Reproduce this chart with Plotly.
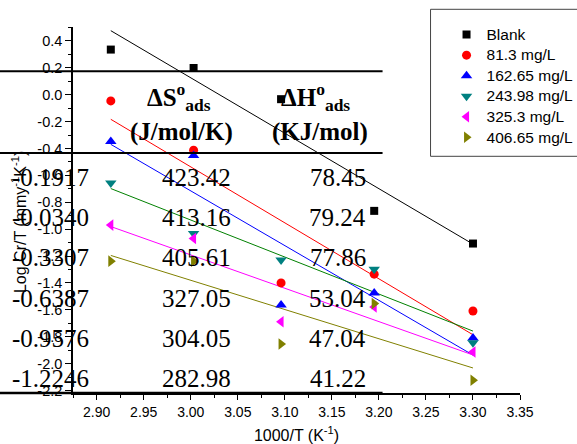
import numpy as np
import plotly.graph_objects as go

# ---------------- data ----------------
inv_T = [2.915, 3.003, 3.096, 3.195, 3.300]          # 1000/T (K^-1)
series_names = ["Blank", "81.3 mg/L", "162.65 mg/L", "243.98 mg/L", "325.3 mg/L", "406.65 mg/L"]
blank    = [0.336, 0.199, -0.033, -0.864, -1.107]
c_81_3   = [-0.046, -0.413, -1.400, -1.335, -1.609]
c_162_65 = [-0.348, -0.452, -1.565, -1.475, -1.809]
c_243_98 = [-0.656, -1.032, -1.230, -1.298, -1.846]
c_325_3  = [-0.970, -1.069, -1.689, -1.579, -1.914]
c_406_65 = [-1.238, -1.238, -1.855, -1.554, -2.124]

# overlaid table
tbl_col1 = ["-0.1917", "-0.0340", "-0.3307", "-0.6387", "-0.9576", "-1.2246"]
dS_ads   = ["423.42", "413.16", "405.61", "327.05", "304.05", "282.98"]
dH_ads   = ["78.45", "79.24", "77.86", "53.04", "47.04", "41.22"]

x_tickvals = [2.90, 2.95, 3.00, 3.05, 3.10, 3.15, 3.20, 3.25, 3.30, 3.35]
x_ticktext = ["2.90", "2.95", "3.00", "3.05", "3.10", "3.15", "3.20", "3.25", "3.30", "3.35"]
y_tickvals = [0.4, 0.2, 0.0, -0.2, -0.4, -0.6, -0.8, -1.0, -1.2, -1.4, -1.6, -1.8, -2.0, -2.2]
y_ticktext = ["0.4", "0.2", "0.0", "-0.2", "-0.4", "-0.6", "-0.8", "-1.0", "-1.2", "-1.4", "-1.6", "-1.8", "-2.0", "-2.2"]

# ---------------- styles ----------------
all_series = [blank, c_81_3, c_162_65, c_243_98, c_325_3, c_406_65]
marker_colors = ["#000000", "#FF0000", "#0000FF", "#008080", "#FF00FF", "#808000"]
line_colors   = ["#000000", "#FF0000", "#0000FF", "#008000", "#FF00FF", "#808000"]
symbols = ["square", "circle", "triangle-up", "triangle-down", "triangle-left", "triangle-right"]
sizes = [8, 9, 10, 10, 10, 10]

W, H = 577, 444
ML, MR, MT, MB = 73.3, 56.5, 26.7, 51.3
PW, PH = W - ML - MR, H - MT - MB

def fx(px):
    return (px - ML) / PW

def fy(py):
    return 1 - (py - MT) / PH

fig = go.Figure()

# linear fits (drawn from the data)
for ys, lc in zip(all_series, line_colors):
    k, b = np.polyfit(inv_T, ys, 1)
    xf = np.array([inv_T[0], inv_T[-1]])
    fig.add_trace(go.Scatter(x=xf, y=k * xf + b, mode="lines",
                             line=dict(color=lc, width=1), showlegend=False,
                             hoverinfo="skip"))

for ys, name, mc, sym, sz in zip(all_series, series_names, marker_colors, symbols, sizes):
    fig.add_trace(go.Scatter(x=inv_T, y=ys, mode="markers",
                             name='<span style="font-size:15.5px">' + name + '</span>',
                             marker=dict(color=mc, symbol=sym, size=sz, line=dict(width=0))))

serif = "Liberation Serif"
ann = []
row_y = [177, 217.5, 257.5, 298, 338, 378]
for ry, a, s, h in zip(row_y, tbl_col1, dS_ads, dH_ads):
    for txt, xr in ((a, 91), (s, 233), (h, 368)):
        ann.append(dict(text=txt, x=fx(xr), y=fy(ry), xref="paper", yref="paper",
                        xanchor="right", yanchor="middle", showarrow=False,
                        font=dict(family=serif, size=25, color="black")))
# header
hdr = [("<b>ΔS<sup>o</sup><sub>ads</sub></b>", 179, 97),
       ("<b>(J/mol/K)</b>", 181.5, 132),
       ("<b>ΔH<sup>o</sup><sub>ads</sub></b>", 316, 97),
       ("<b>(KJ/mol)</b>", 320, 132)]
for txt, xc, yc in hdr:
    ann.append(dict(text=txt, x=fx(xc), y=fy(yc), xref="paper", yref="paper",
                    xanchor="center", yanchor="middle", showarrow=False,
                    font=dict(family=serif, size=25, color="black")))
# y axis title
ann.append(dict(text="Log Cr/T (mmy<sup>-1</sup>K<sup>-1</sup>)", x=fx(20), y=fy(222),
                xref="paper", yref="paper", xanchor="center", yanchor="middle",
                textangle=-90, showarrow=False,
                font=dict(family="Liberation Sans, Arial", size=16, color="black")))

shapes = []
for ly, lw in ((71, 2), (152.7, 2), (392.7, 2.5)):
    shapes.append(dict(type="line", xref="paper", yref="paper", x0=fx(0), x1=fx(383),
                       y0=fy(ly), y1=fy(ly), line=dict(color="black", width=lw), layer="above"))
# legend frame
shapes.append(dict(type="rect", xref="paper", yref="paper", x0=fx(431), x1=fx(600),
                   y0=fy(9), y1=fy(156), line=dict(color="#444444", width=1),
                   fillcolor="rgba(0,0,0,0)", layer="above"))

fig.update_layout(
    width=W, height=H,
    margin=dict(l=ML, r=MR, t=MT, b=MB, autoexpand=False),
    paper_bgcolor="white", plot_bgcolor="white",
    font=dict(family="Liberation Sans, Arial", color="black"),
    showlegend=True,
    legend=dict(x=fx(447), y=fy(19), xanchor="left", yanchor="top",
                bgcolor="rgba(0,0,0,0)", borderwidth=0,
                font=dict(family="Liberation Sans, Arial", size=13.5, color="black"),
                itemclick=False),
    annotations=ann, shapes=shapes,
    xaxis=dict(range=[2.8748, 3.35], showgrid=False, zeroline=False,
               showline=True, linecolor="black", linewidth=1.5,
               ticks="outside", ticklen=5, tickwidth=1.2, tickcolor="black",
               tickmode="array", tickvals=x_tickvals, ticktext=x_ticktext,
               tickfont=dict(size=14),
               minor=dict(dtick=0.025, tick0=2.9, ticks="outside", ticklen=3,
                          tickcolor="black", tickwidth=1),
               title=dict(text="1000/T (K<sup>-1</sup>)", font=dict(size=16), standoff=16)),
    yaxis=dict(range=[-2.219, 0.504], showgrid=False, zeroline=False,
               showline=True, linecolor="black", linewidth=1.5,
               ticks="outside", ticklen=6, tickwidth=1.2, tickcolor="black",
               tickmode="array", tickvals=y_tickvals, ticktext=y_ticktext,
               tickfont=dict(size=14.5),
               minor=dict(dtick=0.1, tick0=0, ticks="outside", ticklen=3,
                          tickcolor="black", tickwidth=1)),
)

fig.write_html("out.html")
